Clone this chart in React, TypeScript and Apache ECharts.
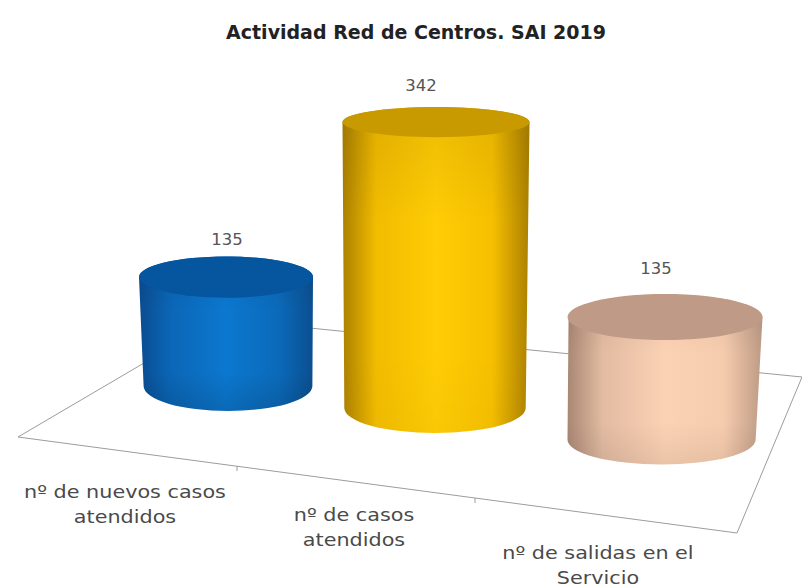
import React, { useEffect, useRef } from "react";
import * as echarts from "echarts";

const titleText = "Actividad Red de Centros. SAI 2019";
const categories = ["nº de nuevos casos\natendidos", "nº de casos\natendidos", "nº de salidas en el\nServicio"];
const values = [135, 342, 135];

// side gradient stops (edge, shoulder, centre, shoulder, edge) and lid colour for each cylinder
const sideColors = [
  ["#0a4c90", "#0b66b6", "#0b78cf", "#0b6aba", "#0a4f90"],
  ["#ab8000", "#f2bc00", "#ffcc05", "#f6c000", "#ab8000"],
  ["#a98773", "#e2bba2", "#fcd2b4", "#f6ccae", "#bd9a85"],
];
const lidColors = ["#05559f", "#c99a00", "#bf9a86"];
const shadeBottom = [0.12, 0.02, 0.07];

// label placement relative to each cylinder
const valueNudge = [[1, -17], [-15, -21], [-9, -25]];
const catNudge = [[-101, 118], [-82, 119], [-67, 125]];

const FONT = '"DejaVu Sans", sans-serif';
const LABEL_STRETCH = 1.22;

// Projection of the flat axes onto the tilted floor of the 3D scene
const bow = (t: number) => -9.5 * (1 - (t - 1) * (t - 1));
const drop = (t: number) => 17 * t + 5 * t * t;
const depth = (t: number) => 0.807 + 0.006 * t + 0.023 * t * t;
const radius = (t: number) => 87 + 7.75 * t - 1.25 * t * t;

const renderItem = (_params: any, api: any) => {
  const t = api.value(0);
  const v = api.value(1);
  const [px, y0] = api.coord([t, 0]);
  const [, yv] = api.coord([t, v]);
  const h = (y0 - yv) * depth(t);
  const cx = px + bow(t);
  const bx = cx + 2 - 3 * t;
  const by = y0 + drop(t);
  const ty = by - h;
  const rt = radius(t);
  const rb = rt * 0.97;
  const ryb = 25;
  const ryt = 25 + 1.5 * t - 0.04 * h;
  const side =
    `M${cx - rt} ${ty}L${bx - rb} ${by}A${rb} ${ryb} 0 0 0 ${bx + rb} ${by}` +
    `L${cx + rt} ${ty}A${rt} ${ryt} 0 0 0 ${cx - rt} ${ty}Z`;
  const stops = sideColors[t];
  const bounds = { x: cx - rt, y: ty - ryt, width: 2 * rt, height: h + ryt + ryb };
  const pathShape = { pathData: side, ...bounds };
  return {
    type: "group",
    children: [
      {
        type: "path",
        shape: pathShape,
        style: {
          fill: new echarts.graphic.LinearGradient(0, 0, 1, 0, [
            { offset: 0, color: stops[0] },
            { offset: 0.18, color: stops[1] },
            { offset: 0.5, color: stops[2] },
            { offset: 0.8, color: stops[3] },
            { offset: 1, color: stops[4] },
          ]),
        },
      },
      {
        type: "path",
        shape: pathShape,
        style: {
          fill: new echarts.graphic.LinearGradient(0, 0, 0, 1, [
            { offset: 0, color: "rgba(0,0,0,0.08)" },
            { offset: 0.35, color: "rgba(0,0,0,0)" },
            { offset: 0.75, color: "rgba(0,0,0,0)" },
            { offset: 1, color: `rgba(0,0,0,${shadeBottom[t]})` },
          ]),
        },
      },
      {
        type: "ellipse",
        shape: { cx, cy: ty, rx: rt, ry: ryt },
        style: { fill: lidColors[t] },
      },
      {
        type: "text",
        x: cx + valueNudge[t][0],
        y: ty - ryt + valueNudge[t][1],
        scaleX: 1.1,
        style: {
          text: String(v),
          fill: "#555",
          font: `15px ${FONT}`,
          align: "center",
          verticalAlign: "middle",
        },
      },
      {
        type: "text",
        x: cx + catNudge[t][0],
        y: by + catNudge[t][1],
        scaleX: LABEL_STRETCH,
        style: {
          text: categories[t],
          fill: "#4a4a4a",
          font: `17px ${FONT}`,
          lineHeight: 25,
          align: "center",
          verticalAlign: "middle",
        },
      },
    ],
  };
};

export default function App() {
  const ref = useRef<HTMLDivElement>(null);
  useEffect(() => {
    document.body.style.margin = "0";
    const chart = echarts.init(ref.current!, undefined, { renderer: "svg" });
    const floorStyle = { stroke: "#9c9c9c", lineWidth: 1, fill: "none" };
    const tick = (x: number, y: number) => ({
      type: "line",
      z: 0,
      shape: { x1: x, y1: y, x2: x, y2: y + 5 },
      style: floorStyle,
    });
    chart.setOption({
      animation: false,
      backgroundColor: "#ffffff",
      title: {
        text: titleText,
        left: 411,
        top: 17,
        textAlign: "center",
        textStyle: { fontFamily: FONT, fontSize: 19, fontWeight: "bold", color: "#222" },
      },
      grid: { left: 116.25, width: 658.5, top: 6, height: 380 },
      xAxis: { type: "category", data: categories, show: false },
      yAxis: { type: "value", min: 0, max: 380, show: false },
      graphic: {
        elements: [
          {
            type: "polygon",
            z: 0,
            shape: { points: [[18, 437], [737, 533], [802, 377], [219, 319]] },
            style: floorStyle,
          },
          tick(237, 466),
          tick(475, 498),
        ],
      },
      series: [
        {
          type: "custom",
          z: 5,
          clip: false,
          renderItem,
          encode: { x: 0, y: 1 },
          data: values.map((v, i) => [i, v]),
        },
      ],
    });
    return () => chart.dispose();
  }, []);
  return <div ref={ref} style={{ width: 802, height: 588, position: "fixed", left: 0, top: 0 }} />;
}
